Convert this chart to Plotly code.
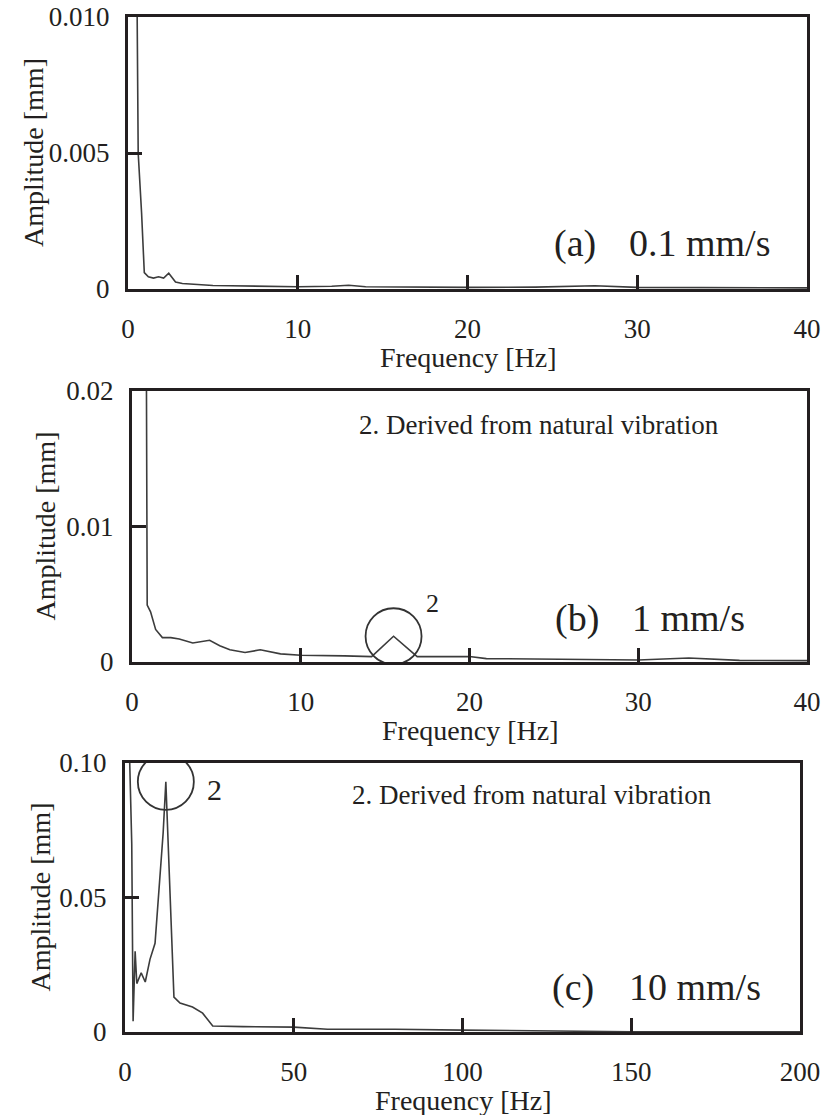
import plotly.graph_objects as go

W, H = 823, 1115
FONT = "Liberation Serif"
INK = "#231f20"
TRACE = "#3c3c3c"

# (a) 0.1 mm/s
freq_a = [0.3, 0.53, 0.6, 0.8, 0.96, 1.2, 1.5, 1.8, 2.1, 2.4, 2.8, 3.2, 4.0, 5.0, 6.0, 8.0,
          10.0, 12.0, 13.0, 14.0, 16.0, 20.0, 24.0, 27.5, 30.0, 34.0, 37.0, 40.0]
amp_a = [0.03, 0.012, 0.005, 0.0028, 0.0006, 0.00045, 0.0004, 0.00045, 0.0004, 0.00058, 0.00026, 0.0002,
         0.00016, 0.00013, 0.00012, 0.0001, 0.00008, 0.0001, 0.00014, 0.00008, 0.00007, 0.00006, 0.00007,
         0.00012, 0.00006, 0.00005, 0.00007, 0.00004]

# (b) 1 mm/s
freq_b = [0.5, 0.83, 0.9, 1.1, 1.4, 1.8, 2.3, 2.8, 3.6, 4.6, 5.2, 5.8, 6.7, 7.6, 8.8, 10.0,
          12.6, 14.2, 15.5, 16.9, 18.0, 20.0, 21.0, 25.0, 30.0, 33.0, 36.0, 40.0]
amp_b = [0.05, 0.03, 0.0042, 0.0037, 0.0024, 0.0018, 0.0018, 0.0017, 0.0014, 0.0016, 0.0012, 0.0009,
         0.0007, 0.0009, 0.0006, 0.0005, 0.00045, 0.0004, 0.0019, 0.0004, 0.0004, 0.0004, 0.00025,
         0.0002, 0.00015, 0.0003, 0.00012, 0.0001]

# (c) 10 mm/s
freq_c = [1.0, 2.0, 2.4, 3.0, 3.5, 4.8, 6.0, 7.4, 8.9, 9.8, 11.3, 12.1, 13.3, 14.0, 14.5, 16.3,
          20.0, 23.0, 24.6, 26.0, 35.0, 50.0, 60.0, 80.0, 100.0, 120.0, 150.0, 200.0]
amp_c = [0.12, 0.07, 0.004, 0.03, 0.018, 0.022, 0.0186, 0.027, 0.033, 0.049, 0.074, 0.093, 0.052,
         0.028, 0.013, 0.0108, 0.0093, 0.007, 0.0045, 0.0022, 0.002, 0.0018, 0.001, 0.001, 0.0007,
         0.0005, 0.0001, 0.0001]

x_ticks_ab = [0, 10, 20, 30, 40]
x_ticks_c = [0, 50, 100, 150, 200]
y_ticks_a = [0, 0.005, 0.010]
y_text_a = ["0", "0.005", "0.010"]
y_ticks_b = [0, 0.01, 0.02]
y_text_b = ["0", "0.01", "0.02"]
y_ticks_c = [0, 0.05, 0.10]
y_text_c = ["0", "0.05", "0.10"]

peak_b = (15.5, 0.0019)
peak_c = (12.1, 0.093)


def px(x):
    return x / W


def py(y):
    return 1 - y / H


# plot boxes in pixels: left, right, top, bottom
boxes = [(128, 807, 17, 289), (132, 807, 391, 662), (125, 800, 763, 1032)]

fig = go.Figure()
for i, (fx, fy) in enumerate([(freq_a, amp_a), (freq_b, amp_b), (freq_c, amp_c)]):
    sfx = "" if i == 0 else str(i + 1)
    fig.add_trace(go.Scatter(x=fx, y=fy, mode="lines", xaxis="x" + sfx, yaxis="y" + sfx,
                             line=dict(color=TRACE, width=1.6), showlegend=False))

axis_common = dict(showline=True, linecolor=INK, linewidth=3, mirror=True, ticks="inside",
                   ticklen=14, tickwidth=2.5, tickcolor=INK, showgrid=False, zeroline=False,
                   automargin=False, tickfont=dict(family=FONT, size=27, color=INK))

x_specs = [([0, 40], x_ticks_ab), ([0, 40], x_ticks_ab), ([0, 200], x_ticks_c)]
y_specs = [([0, 0.010], y_ticks_a, y_text_a), ([0, 0.02], y_ticks_b, y_text_b),
           ([0, 0.10], y_ticks_c, y_text_c)]

layout = dict(width=W, height=H, margin=dict(l=0, r=0, t=0, b=0, autoexpand=False),
              paper_bgcolor="white", plot_bgcolor="white", showlegend=False)
for i, (l, r, t, b) in enumerate(boxes):
    sfx = "" if i == 0 else str(i + 1)
    xr, xt = x_specs[i]
    yr, yt, ytt = y_specs[i]
    layout["xaxis" + sfx] = dict(axis_common, domain=[px(l), px(r)], range=xr, tickvals=xt,
                                 anchor="y" + sfx, ticklabelstandoff=14)
    layout["yaxis" + sfx] = dict(axis_common, domain=[py(b), py(t)], range=yr, tickvals=yt,
                                 ticktext=ytt, anchor="x" + sfx, ticklabelstandoff=10)
fig.update_layout(**layout)

ann = []


def label(text, x, y, size, xanchor="center", angle=0):
    ann.append(dict(text=text, x=px(x), y=py(y), xref="paper", yref="paper", showarrow=False,
                    xanchor=xanchor, yanchor="middle", textangle=angle,
                    font=dict(family=FONT, size=size, color=INK)))


# axis titles
for (l, r, t, b), fy, ax in zip(boxes, [357, 730, 1100], [33, 45, 40]):
    label("Frequency [Hz]", (l + r) / 2, fy, 28)
    label("Amplitude [mm]", ax, (t + b) / 2, 28, angle=-90)

# panel captions
label("(a)", 552, 243, 38, "left")
label("0.1 mm/s", 627, 243, 38, "left")
label("(b)", 553, 618, 38, "left")
label("1 mm/s", 630, 618, 38, "left")
label("(c)", 550, 987, 38, "left")
label("10 mm/s", 627, 987, 38, "left")
label("2. Derived from natural vibration", 357, 425, 27, "left")
label("2. Derived from natural vibration", 350, 795, 27, "left")
label("2", 432, 603, 26)
label("2", 215, 789, 30)

fig.update_layout(annotations=ann)

# circles marking the natural-vibration peaks
for (xv, yv), xs, ys in [(peak_b, "x2", "y2"), (peak_c, "x3", "y3")]:
    fig.add_shape(type="circle", xref=xs, yref=ys, xsizemode="pixel", ysizemode="pixel",
                  xanchor=xv, yanchor=yv, x0=-28, x1=28, y0=-28, y1=28,
                  line=dict(color="#333333", width=1.8))

fig.write_html("out.html")
